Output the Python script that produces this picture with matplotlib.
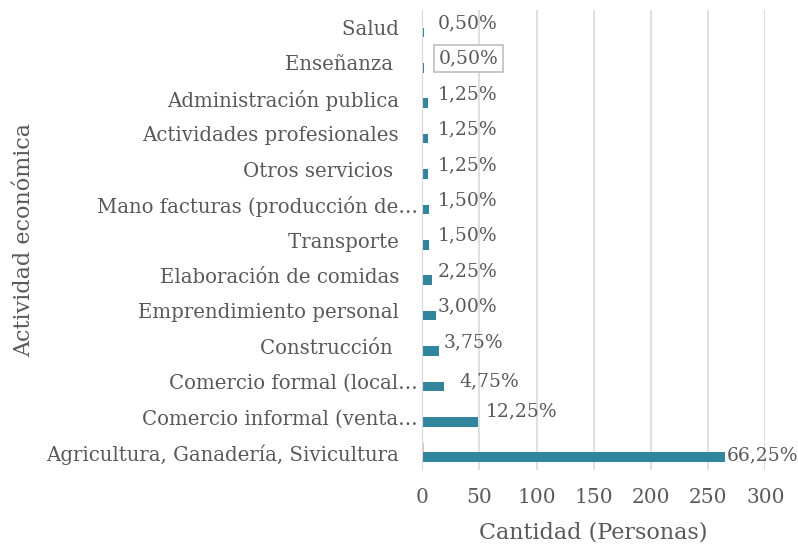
import matplotlib
matplotlib.use('Agg')
import matplotlib.pyplot as plt

categorias = ['Salud', 'Enseñanza ', 'Administración publica', 'Actividades profesionales',
              'Otros servicios ', 'Mano facturas (producción de…', 'Transporte',
              'Elaboración de comidas', 'Emprendimiento personal', 'Construcción ',
              'Comercio formal (local…', 'Comercio informal (venta…',
              'Agricultura, Ganadería, Sivicultura']
personas = [2, 2, 5, 5, 5, 6, 6, 9, 12, 15, 19, 49, 265]
fraccion = [0.005, 0.005, 0.0125, 0.0125, 0.0125, 0.015, 0.015,
            0.0225, 0.03, 0.0375, 0.0475, 0.1225, 0.6625]
porcentajes = ['0,50%', '0,50%', '1,25%', '1,25%', '1,25%', '1,50%', '1,50%',
               '2,25%', '3,00%', '3,75%', '4,75%', '12,25%', '66,25%']

# label nudges in points (Excel had them moved around by hand)
dx = [9.4, 10, 7.2, 7.2, 7.2, 6.5, 6.5, 3.6, 1.2, 2.9, 11.5, 5.8, 1.4]
dy = [3, 3, 3, 3, 3, 3, 3, 3, 3, 3, 0, 4.3, -2]

plt.rcParams['font.family'] = ['DejaVu Serif']
gris = '#595959'

fig = plt.figure(figsize=(7.98, 5.48), dpi=100)
ax = fig.add_axes([0.529, 0.142, 0.43, 0.84])

pos = list(range(len(categorias)))
h = 0.27
ax.barh([p - h / 2 for p in pos], fraccion, height=h, color='#E6B9B8',
        edgecolor='#E6B9B8', lw=0.6)
ax.barh([p + h / 2 for p in pos], personas, height=h, color='#31859C')
ax.set_ylim(len(categorias) - 0.5, -0.5)
ax.set_xlim(0, 300)
ax.set_xticks([0, 50, 100, 150, 200, 250, 300])
ax.set_yticks(pos)
ax.set_yticklabels([c if c.endswith('…') else c + '   ' for c in categorias])

for i in pos:
    ax.annotate(porcentajes[i], (personas[i], i), xytext=(dx[i], dy[i]),
                textcoords='offset points', va='center', ha='left',
                fontsize=13.5, color=gris, annotation_clip=False,
                bbox=dict(boxstyle='square,pad=0.25', fc='white', ec='#bfbfbf', lw=1.2) if i == 1 else None)

ax.grid(axis='x', color='#d9d9d9', lw=1.2)
ax.set_axisbelow(True)
for s in ['top', 'right', 'bottom']:
    ax.spines[s].set_visible(False)
ax.spines['left'].set_color('#d9d9d9')
ax.tick_params(axis='both', length=0, colors=gris)
ax.tick_params(axis='x', pad=13, labelsize=14.5)
ax.tick_params(axis='y', pad=3, labelsize=14.2)

ax.set_xlabel('Cantidad (Personas)', fontsize=16, color=gris, labelpad=10)
ax.set_ylabel('Actividad económica', fontsize=16, color=gris, labelpad=8)

fig.savefig('out.png', dpi=100)
